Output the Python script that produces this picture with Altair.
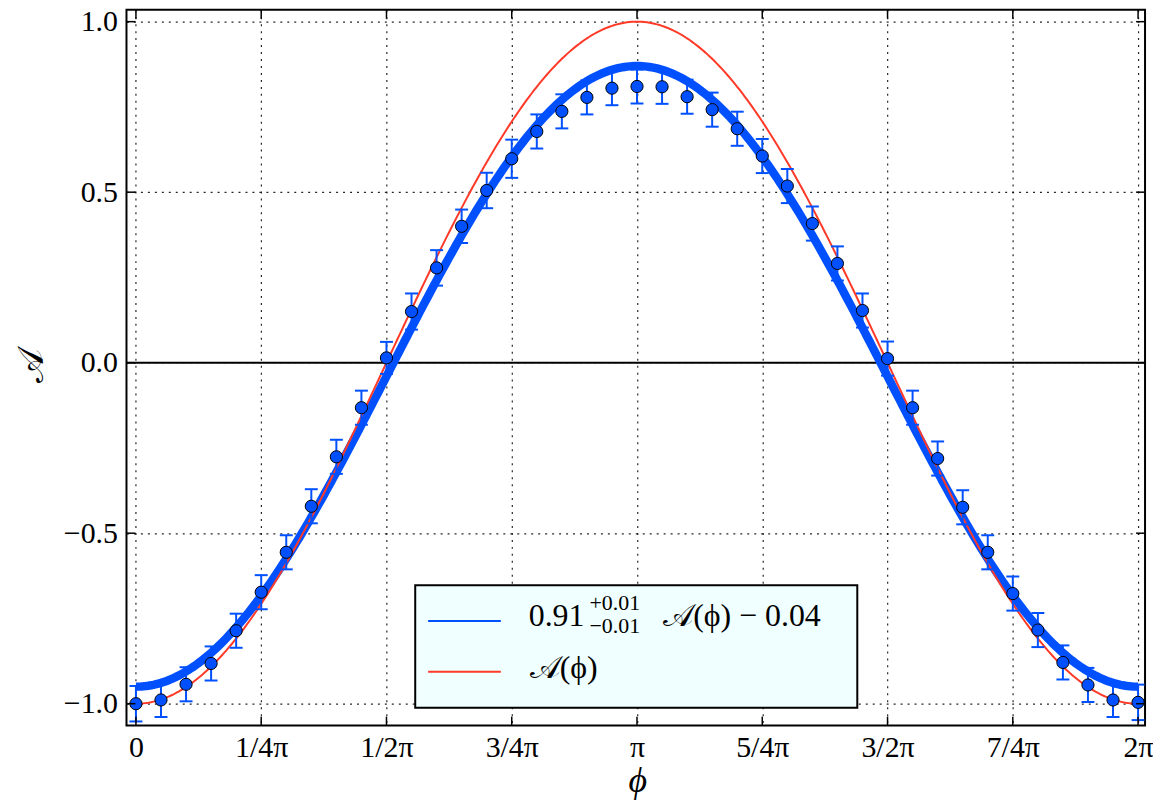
import math
import altair as alt
import pandas as pd

PI = math.pi

# ---------------- data ----------------
phi_over_pi = [0.00, 0.05, 0.10, 0.15, 0.20, 0.25, 0.30, 0.35, 0.40, 0.45,
               0.50, 0.55, 0.60, 0.65, 0.70, 0.75, 0.80, 0.85, 0.90, 0.95,
               1.00, 1.05, 1.10, 1.15, 1.20, 1.25, 1.30, 1.35, 1.40, 1.45,
               1.50, 1.55, 1.60, 1.65, 1.70, 1.75, 1.80, 1.85, 1.90, 1.95, 2.00]
asym = [-1.000, -0.989, -0.943, -0.882, -0.786, -0.673, -0.556, -0.421, -0.276, -0.132,
        0.014, 0.150, 0.278, 0.400, 0.505, 0.598, 0.678, 0.737, 0.778, 0.805,
        0.810, 0.809, 0.780, 0.742, 0.686, 0.606, 0.518, 0.408, 0.291, 0.153,
        0.012, -0.132, -0.281, -0.424, -0.556, -0.677, -0.784, -0.879, -0.945, -0.989, -0.996]
asym_err = [0.052, 0.050, 0.050, 0.050, 0.050, 0.050, 0.050, 0.050, 0.050, 0.050,
            0.047, 0.053, 0.052, 0.049, 0.052, 0.056, 0.050, 0.050, 0.050, 0.050,
            0.050, 0.050, 0.050, 0.050, 0.050, 0.050, 0.050, 0.050, 0.050, 0.050,
            0.050, 0.050, 0.050, 0.050, 0.050, 0.050, 0.050, 0.050, 0.050, 0.050, 0.052]

# fitted model: fit_scale * A(phi) + fit_offset, with A(phi) = -cos(phi)
fit_scale = 0.91
fit_offset = -0.04

x_tick_pi = [0, 0.25, 0.5, 0.75, 1.0, 1.25, 1.5, 1.75, 2.0]
x_tick_labels = ["0", "1/4π", "1/2π", "3/4π", "π", "5/4π", "3/2π", "7/4π", "2π"]
y_ticks = [-1.0, -0.5, 0.0, 0.5, 1.0]

legend_fit_main = "0.91"
legend_fit_sup = "+0.01"
legend_fit_sub = "−0.01"
legend_fit_rest = "𝒜(ϕ) − 0.04"
legend_model = "𝒜(ϕ)"

# ---------------- styling ----------------
BLUE = "#0050ff"
RED = "#ff3a28"
FONT = "'Liberation Serif', 'DejaVu Serif', serif"
W, H = 1023, 719

xdom = [-0.0593, 2 * PI + 0.0437]
ydom = [-1.0642, 1.035]

xscale = alt.Scale(domain=xdom, nice=False, zero=False)
yscale = alt.Scale(domain=ydom, nice=False, zero=False)

pts = pd.DataFrame({
    "phi": [p * PI for p in phi_over_pi],
    "A": asym,
    "err": asym_err,
})
pts["lo"] = pts["A"] - pts["err"]
pts["hi"] = pts["A"] + pts["err"]

label_arr = "[" + ",".join("'" + s + "'" for s in x_tick_labels) + "]"

x_axis = alt.Axis(values=[p * PI for p in x_tick_pi], labelExpr=label_arr + "[round(datum.value*4/PI)]",
                  title=None, domain=False, ticks=False, tickSize=0, grid=True,
                  gridDash=[2, 5], gridColor="#000000", gridWidth=1.2, gridOpacity=0.85,
                  labelFont=FONT, labelFontSize=30, labelColor="black", labelPadding=7,
                  labelFlush=False, labelOverlap=False)
y_axis = alt.Axis(values=y_ticks, format=".1f", title=None, domain=False, ticks=False, tickSize=0,
                  grid=True, gridDash=[2, 5], gridColor="#000000", gridWidth=1.2, gridOpacity=0.85,
                  labelFont=FONT, labelFontSize=30, labelColor="black", labelPadding=9,
                  labelFlush=False, labelOverlap=False)


def X(field):
    return alt.X(field, scale=xscale, axis=x_axis)


def Y(field):
    return alt.Y(field, scale=yscale, axis=y_axis)


zero = alt.Chart(pd.DataFrame({"y": [0.0]})).mark_rule(color="black", strokeWidth=2).encode(
    y=Y("y:Q")
)

curve_base = alt.Chart(alt.sequence(0, 2 * PI + 1e-6, 2 * PI / 400, as_="phi")).transform_calculate(
    model="-cos(datum.phi)",
    fit=f"{fit_scale}*(-cos(datum.phi)) + ({fit_offset})",
)
fit_line = curve_base.mark_line(color=BLUE, strokeWidth=8.5, strokeCap="butt").encode(
    x=X("phi:Q"), y=Y("fit:Q"),
)
model_line = curve_base.mark_line(color=RED, strokeWidth=2).encode(
    x=X("phi:Q"), y=Y("model:Q"),
)

ebar = alt.Chart(pts).mark_rule(color=BLUE, strokeWidth=2).encode(
    x=X("phi:Q"), y=Y("lo:Q"), y2="hi:Q",
)
cap_lo = alt.Chart(pts).mark_tick(color=BLUE, orient="horizontal", thickness=2, size=13, opacity=1).encode(
    x=X("phi:Q"), y=Y("lo:Q"),
)
cap_hi = alt.Chart(pts).mark_tick(color=BLUE, orient="horizontal", thickness=2, size=13, opacity=1).encode(
    x=X("phi:Q"), y=Y("hi:Q"),
)
points = alt.Chart(pts).mark_circle(size=150, color=BLUE, opacity=1, stroke="black", strokeWidth=1).encode(
    x=X("phi:Q"), y=Y("A:Q"),
)

# inward ticks on all four sides
xt = pd.DataFrame({"t": [p * PI for p in x_tick_pi]})
yt = pd.DataFrame({"t": y_ticks})
TL = 9
xt_bot = alt.Chart(xt).mark_rule(color="black", strokeWidth=1.5).encode(
    x=X("t:Q"), y=alt.value(H), y2=alt.value(H - TL))
xt_top = alt.Chart(xt).mark_rule(color="black", strokeWidth=1.5).encode(
    x=X("t:Q"), y=alt.value(0), y2=alt.value(TL))
yt_left = alt.Chart(yt).mark_rule(color="black", strokeWidth=1.5).encode(
    y=Y("t:Q"), x=alt.value(0), x2=alt.value(TL))
yt_right = alt.Chart(yt).mark_rule(color="black", strokeWidth=1.5).encode(
    y=Y("t:Q"), x=alt.value(W - TL), x2=alt.value(W))

one = pd.DataFrame({"k": [0]})

# axis titles
x_title = alt.Chart(one).mark_text(text="ϕ", font=FONT, fontSize=36, fontStyle="italic",
                                   align="center", baseline="alphabetic", color="black").encode(
    x=alt.value(W / 2 + 2), y=alt.value(786))
y_title = alt.Chart(one).mark_text(text="𝒜", font=FONT, fontSize=36, angle=270,
                                   align="center", baseline="middle", color="black").encode(
    x=alt.value(-95), y=alt.value(358))

# legend box
leg_box = alt.Chart(one).mark_rect(fill="#f0ffff", stroke="black", strokeWidth=2).encode(
    x=alt.value(290), x2=alt.value(734), y=alt.value(578), y2=alt.value(701))
leg_l1 = alt.Chart(one).mark_rule(color=BLUE, strokeWidth=2).encode(
    x=alt.value(303), x2=alt.value(376), y=alt.value(614))
leg_l2 = alt.Chart(one).mark_rule(color=RED, strokeWidth=2).encode(
    x=alt.value(303), x2=alt.value(376), y=alt.value(665))


def txt(s, x, y, size):
    return alt.Chart(one).mark_text(text=s, font=FONT, fontSize=size, align="left",
                                    baseline="alphabetic", color="black").encode(
        x=alt.value(x), y=alt.value(y))


leg_t1 = txt(legend_fit_main, 404, 619, 32)
leg_sup = txt(legend_fit_sup, 465, 603, 22)
leg_sub = txt(legend_fit_sub, 465, 626, 22)
leg_t1b = txt(legend_fit_rest, 539, 619, 32)
leg_t2 = txt(legend_model, 405, 671, 32)

chart = alt.layer(
    zero, fit_line, model_line, ebar, cap_lo, cap_hi, points,
    xt_bot, xt_top, yt_left, yt_right,
    x_title, y_title,
    leg_box, leg_l1, leg_l2, leg_t1, leg_sup, leg_sub, leg_t1b, leg_t2,
).properties(
    width=W, height=H,
    autosize=alt.AutoSizeParams(type="none"),
    padding={"left": 119, "top": 0, "right": 8, "bottom": 76},
    background="white",
).configure_view(stroke="black", strokeWidth=2)

chart.save("out.html", embed_options={"renderer": "svg", "actions": False})
